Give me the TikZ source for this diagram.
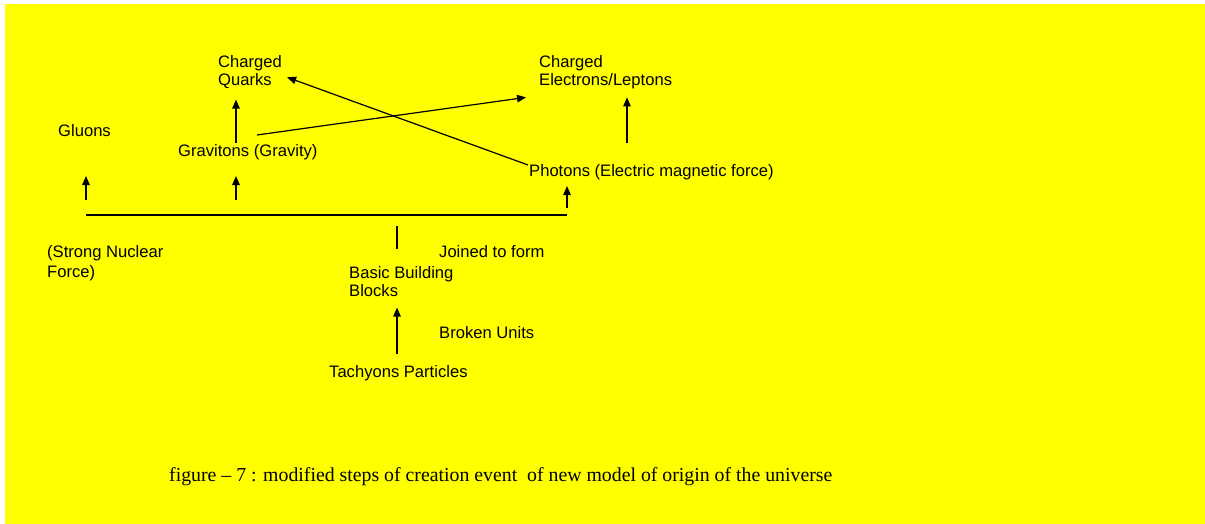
\documentclass[tikz,border=0pt]{standalone}
\usepackage{fontspec}
\setmainfont{Liberation Serif}
\setsansfont{Liberation Sans}
\usetikzlibrary{arrows.meta}
\definecolor{bgyellow}{RGB}{255,255,0}

\begin{document}
\begin{tikzpicture}[x=1pt, y=-1pt,
    lbl/.style={anchor=base west, inner sep=0pt, align=left, font=\sffamily\fontsize{16.6}{18}\selectfont},
    lbltwo/.style={lbl, anchor=north west},
    arr/.style={black, line width=1.2pt, -{Triangle[length=9pt, width=7.5pt]}},
    bar/.style={black, line width=1.2pt}]
\useasboundingbox (0,0) rectangle (1205,524);
\fill[bgyellow] (5,4) rectangle (1205,524);

\node[lbltwo] (quarks) at (218, 55) {Charged\\Quarks};
\node[lbltwo] (leptons) at (539, 55) {Charged\\Electrons/Leptons};
\node[lbl] (gluons) at (58, 137) {Gluons};
\node[lbl] (gravitons) at (178, 157) {Gravitons (Gravity)};
\node[lbl] (photons) at (529, 177) {Photons (Electric magnetic force)};
\node[lbltwo] (strong) at (47, 245) {(Strong Nuclear\\[2pt]Force)};
\node[lbl] (joined) at (439, 257) {Joined to form};
\node[lbltwo] (blocks) at (349, 266) {Basic Building\\Blocks};
\node[lbl] (broken) at (439, 338) {Broken Units};
\node[lbl] (tachyons) at (329, 377) {Tachyons Particles};

\node[anchor=base west, inner sep=0pt, font=\rmfamily\fontsize{19.8}{22}\selectfont] (caption) at (169, 481)
    {figure -- 7 : modified steps of creation event \ of new model of origin of the universe};

\coordinate (barL) at (86, 215);
\coordinate (barR) at (567, 215);
\draw[bar] (barL) -- (barR);

\draw[arr] ([xshift=58pt, yshift=14pt]gravitons.base west) -- ([xshift=18pt, yshift=-11pt]quarks.south west);
\draw[arr] ([xshift=79pt, yshift=22pt]gravitons.base west) -- ([xshift=-13pt, yshift=-8.5pt]leptons.south west);
\draw[arr] ([xshift=-1pt, yshift=12pt]photons.base west) -- ([xshift=5pt, yshift=-5.5pt]quarks.east);
\draw[arr] ([xshift=98pt, yshift=34pt]photons.base west) -- ([xshift=88pt, yshift=-8.5pt]leptons.south west);

\draw[arr] ([yshift=15pt]barL) -- ([xshift=28pt, yshift=-39pt]gluons.base west);
\draw[arr] ([xshift=150pt, yshift=15pt]barL) -- ([xshift=58pt, yshift=-19pt]gravitons.base west);
\draw[arr] ([yshift=7pt]barR) -- ([xshift=38pt, yshift=-9pt]photons.base west);

\draw[bar] ([xshift=311pt, yshift=-11pt]barL) -- ([xshift=48pt, yshift=17pt]blocks.north west);
\draw[arr] ([xshift=68pt, yshift=23pt]tachyons.base west) -- ([xshift=48pt, yshift=-11pt]blocks.south west);
\end{tikzpicture}
\end{document}
